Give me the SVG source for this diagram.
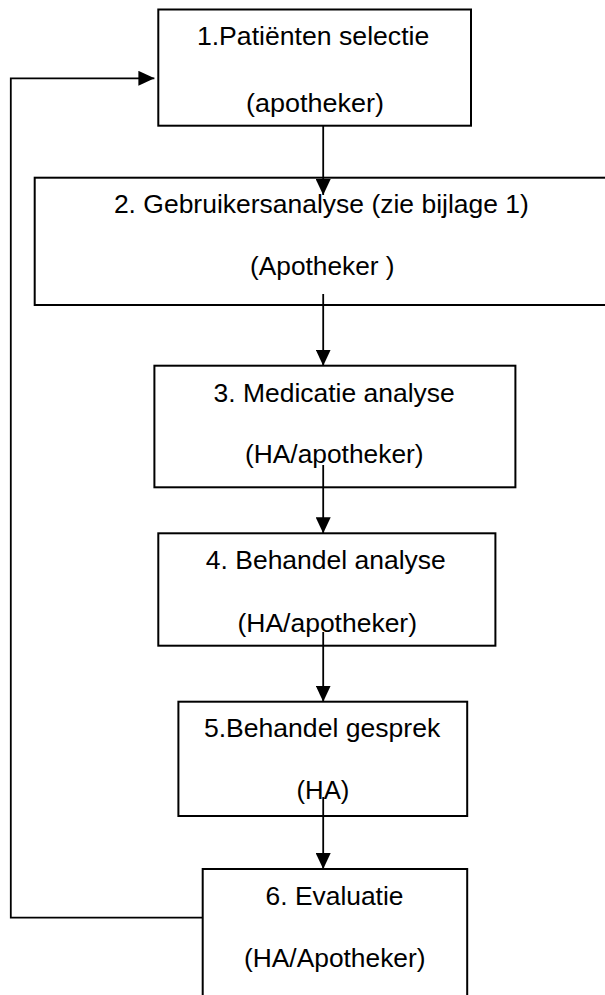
<svg xmlns="http://www.w3.org/2000/svg" width="605" height="995" viewBox="0 0 605 995">
<style>
  .box { fill: #ffffff; stroke: #000000; stroke-width: 2; }
  .lbl { font-family: "Liberation Sans", Arial, sans-serif; font-size: 25px; fill: #000000; }
  .conn { fill: none; stroke: #000000; stroke-width: 1.8; }
</style>
<defs>
  <marker id="arrow" markerUnits="userSpaceOnUse" markerWidth="16" markerHeight="15" refX="16" refY="7.5" orient="auto">
    <path d="M0,0 L16,7.5 L0,15 z" fill="#000000"/>
  </marker>
</defs>
<rect width="605" height="995" fill="#ffffff"/>

<g id="node1">
  <rect class="box" x="158.3" y="9.5" width="312.7" height="116.2"/>
  <text class="lbl" x="196.9" y="45" textLength="232.4" lengthAdjust="spacingAndGlyphs">1.Patiënten selectie</text>
  <text class="lbl" x="246" y="111.7" textLength="138" lengthAdjust="spacingAndGlyphs">(apotheker)</text>
</g>

<g id="node2">
  <rect class="box" x="34.7" y="177.7" width="580" height="127.3"/>
  <text class="lbl" x="113.9" y="212.7" textLength="415" lengthAdjust="spacingAndGlyphs">2. Gebruikersanalyse (zie bijlage 1)</text>
  <text class="lbl" x="250" y="275" textLength="144.6" lengthAdjust="spacingAndGlyphs">(Apotheker )</text>
</g>

<g id="node3">
  <rect class="box" x="154.4" y="365.7" width="361" height="121.6"/>
  <text class="lbl" x="213.5" y="401.7" textLength="241.3" lengthAdjust="spacingAndGlyphs">3. Medicatie analyse</text>
  <text class="lbl" x="245" y="463" textLength="178.6" lengthAdjust="spacingAndGlyphs">(HA/apotheker)</text>
</g>

<g id="node4">
  <rect class="box" x="158.3" y="533.3" width="337.1" height="112.4"/>
  <text class="lbl" x="205.8" y="569.3" textLength="240" lengthAdjust="spacingAndGlyphs">4. Behandel analyse</text>
  <text class="lbl" x="237.5" y="631.7" textLength="179.5" lengthAdjust="spacingAndGlyphs">(HA/apotheker)</text>
</g>

<g id="node5">
  <rect class="box" x="178.4" y="701.7" width="288.8" height="114.3"/>
  <text class="lbl" x="203.9" y="737.3" textLength="236.3" lengthAdjust="spacingAndGlyphs">5.Behandel gesprek</text>
  <text class="lbl" x="296.5" y="799" textLength="52.9" lengthAdjust="spacingAndGlyphs">(HA)</text>
</g>

<g id="node6">
  <rect class="box" x="202.7" y="869" width="264.5" height="140"/>
  <text class="lbl" x="265.6" y="905" textLength="137.9" lengthAdjust="spacingAndGlyphs">6. Evaluatie</text>
  <text class="lbl" x="244" y="966.7" textLength="181.5" lengthAdjust="spacingAndGlyphs">(HA/Apotheker)</text>
</g>

<g id="connectors">
  <path class="conn" d="M323.2,125.7 L323.2,195" marker-end="url(#arrow)"/>
  <path class="conn" d="M323.2,294 L323.2,365.7" marker-end="url(#arrow)"/>
  <path class="conn" d="M323.2,465 L323.2,533.3" marker-end="url(#arrow)"/>
  <path class="conn" d="M323.2,632 L323.2,701.7" marker-end="url(#arrow)"/>
  <path class="conn" d="M323.2,797 L323.2,869" marker-end="url(#arrow)"/>
  <path class="conn" d="M202.7,917.7 L10.8,917.7 L10.8,78.3 L154.4,78.3" marker-end="url(#arrow)"/>
</g>
</svg>
